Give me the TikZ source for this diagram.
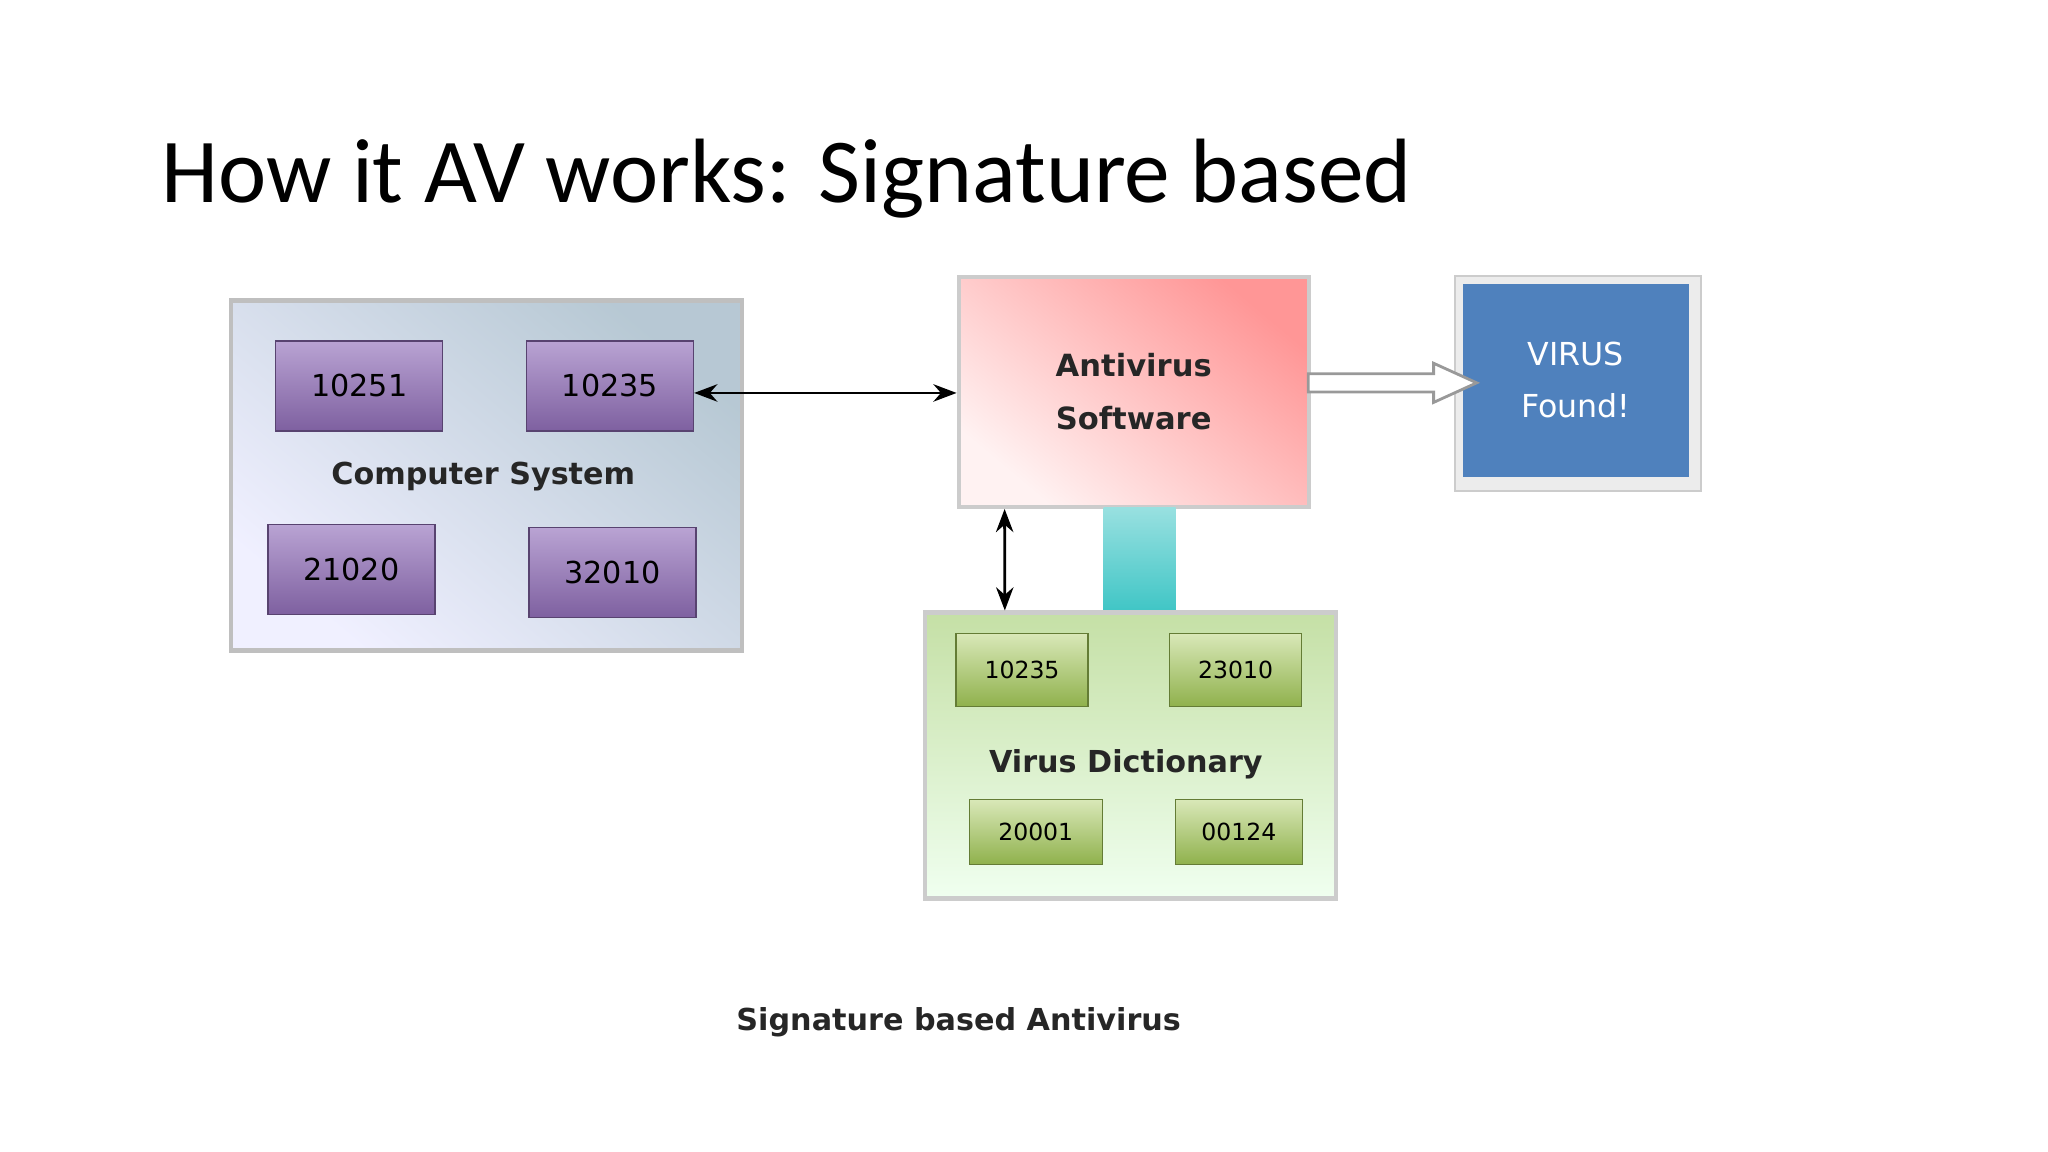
\documentclass[tikz,border=0pt]{standalone}
\usepackage{fontspec}
\setmainfont{DejaVu Sans}
\newfontfamily\titlefont{Carlito}
\usetikzlibrary{arrows.meta,positioning,calc}
\definecolor{purpleA}{HTML}{B9A3D3}
\definecolor{purpleB}{HTML}{7E60A0}
\definecolor{greenA}{HTML}{D9E8B8}
\definecolor{greenB}{HTML}{8FB14C}
\definecolor{avblue}{HTML}{4F81BD}
\begin{document}
\begin{tikzpicture}[
    x=0.01306cm, y=-0.01306cm,
    outer/.style={rectangle, draw=gray!50, line width=1.2pt},
    cell/.style={rectangle, draw=purpleB!70!black, top color=purpleA, bottom color=purpleB, minimum width=1.67cm, minimum height=0.9cm, font=\fontsize{8.6}{10}\selectfont},
    gcell/.style={rectangle, draw=greenB!70!black, top color=greenA, bottom color=greenB, minimum width=1.32cm, minimum height=0.73cm, font=\fontsize{6.7}{8}\selectfont},
    lbl/.style={font=\fontsize{8.6}{10}\selectfont\bfseries, text=black!85},
    arrow/.style={{Stealth}-{Stealth}, thick}
]
    \useasboundingbox (0,0) rectangle (1568,882);
    % Title
    \node[anchor=base west, font=\titlefont\fontsize{26}{32}\selectfont] (title) at (114,155) {How it AV works: Signature based};

    % Computer system
    \node[outer, minimum width=5.11cm, minimum height=3.5cm,
          top color=blue!40!cyan!25!gray!45, bottom color=blue!6!white, shading angle=-40] (comp) at (372.5,364) {};
    \node[cell] (c1) at (275,295.5) {10251};
    \node[cell] (c2) at (467,295.5) {10235};
    \node[cell] (c3) at (269,436) {21020};
    \node[cell] (c4) at (469,438.5) {32010};
    \node[lbl] (compl) at (370,365) {Computer System};

    % Antivirus software
    \node[outer, draw=gray!40, top color=red!35!pink!80, bottom color=pink!20!white, shading angle=-40, minimum width=3.5cm, minimum height=2.3cm,
          align=center, text=black!85, font=\fontsize{8.7}{15}\selectfont\bfseries] (anti) at (868,300) {Antivirus\\Software};

    % Virus found
    \node[rectangle, fill=gray!15, draw=gray!40, minimum width=2.46cm, minimum height=2.15cm] (vout) at (1208,293.5) {};
    \node[rectangle, fill=avblue, minimum width=2.26cm, minimum height=1.93cm, align=center, text=white,
          font=\fontsize{9}{15}\selectfont] (virus) at (1206.5,291) {VIRUS\\Found!};

    % Link to dictionary
    \node[rectangle, top color=cyan!40!teal!40, bottom color=cyan!40!teal!75, minimum width=0.72cm, minimum height=1.04cm] (link) at (872.5,428) {};

    % Virus dictionary
    \node[outer, draw=gray!40, top color=green!30!olive!35, bottom color=green!6!white, minimum width=4.11cm, minimum height=2.86cm] (dict) at (865.5,578.5) {};
    \node[gcell] (d1) at (782.5,513) {10235};
    \node[gcell] (d2) at (946,513) {23010};
    \node[gcell, minimum width=1.33cm, minimum height=0.65cm] (d3) at (793,637) {20001};
    \node[gcell, minimum width=1.27cm, minimum height=0.65cm] (d4) at (948.5,637) {00124};
    \node[lbl] (dictl) at (862,585) {Virus Dictionary};

    % Arrows
    \draw[arrow] ([yshift=-0.07cm]c2.east) -- ([yshift=-0.07cm]c2.east -| anti.west);
    \draw[arrow] ([xshift=0.48cm]anti.south west) -- ([xshift=0.82cm]dict.north west);
    \coordinate (hollow) at ([yshift=0.09cm]anti.east);
    \draw[gray!80, fill=white, line width=0.8pt] (hollow) ++(-2,-7) -- ++(96,0) -- ++(0,-8) -- ++(33,15) -- ++(-33,15) -- ++(0,-8) -- ++(-96,0) -- cycle;

    % Caption
    \node[lbl] (caption) at (734,783) {Signature based Antivirus};
\end{tikzpicture}
\end{document}
